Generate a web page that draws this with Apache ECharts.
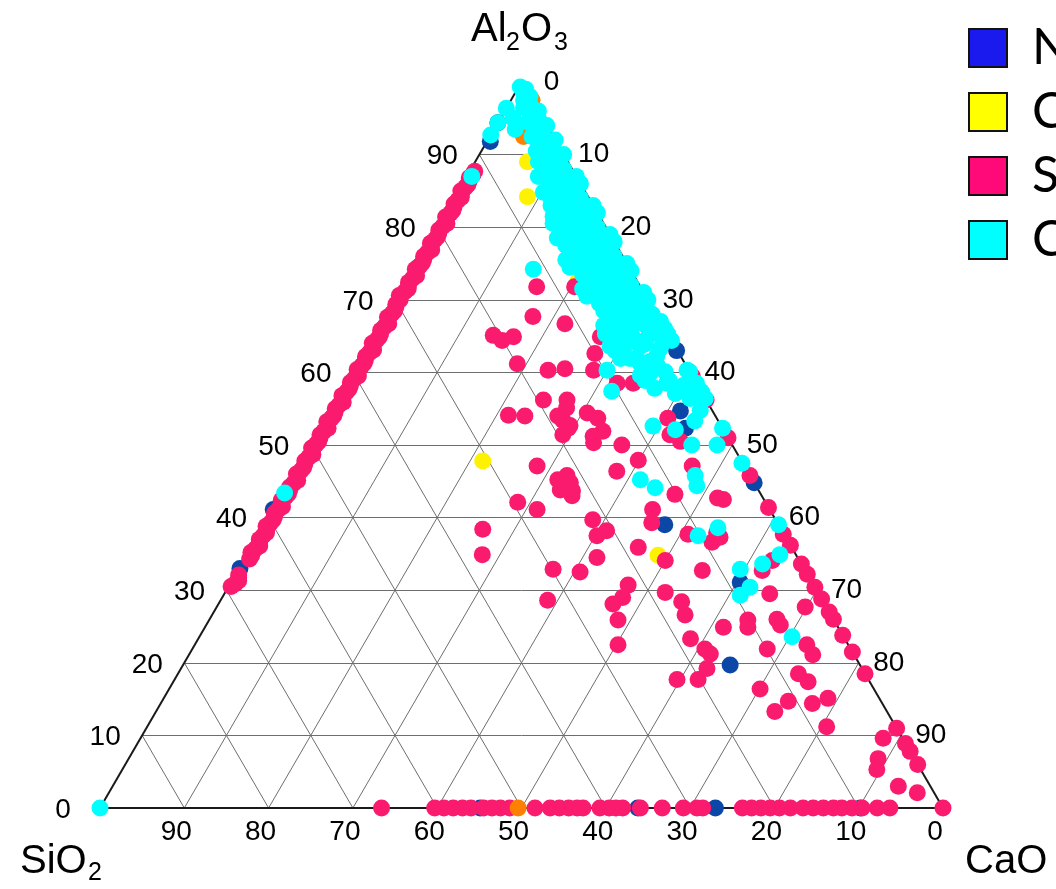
<!DOCTYPE html>
<html>
<head>
<meta charset="utf-8">
<script src="https://cdn.jsdelivr.net/npm/echarts@6/dist/echarts.min.js"></script>
<style>
html, body { margin: 0; padding: 0; background: #fff; }
#chart { width: 1056px; height: 889px; }
</style>
</head>
<body>
<div id="chart"></div>
<script>
// 三元图 SiO2 - Al2O3 - CaO, 每个点 [SiO2, Al2O3, CaO] (wt%)
var ticks = [0, 10, 20, 30, 40, 50, 60, 70, 80, 90];
var gridSteps = [10, 20, 30, 40, 50, 60, 70, 80, 90];
var legendNames = ['Natural', 'Commercial', 'Synthetic', 'Cement'];

var blueData = [
    [5.6, 94.4, 0], [7.8, 91.8, 0.4], [25, 74.5, 0.5], [58.9, 41.1, 0], [66.9, 33, 0.1],
    [0.1, 63, 36.9], [3.8, 54.7, 41.5], [4.4, 52.3, 43.3], [0, 44.8, 55.2], [13.5, 39.0, 47.5],
    [8.5, 31.1, 60.4], [15.4, 19.7, 64.9], [54.9, 0, 45.1], [36.2, 0, 63.8], [27, 0, 73], [9.8, 0, 90.2]
];

var yellowData = [
    [4.8, 89, 6.2], [4.2, 86.8, 9.0], [7.2, 84.2, 8.6], [7.0, 72.6, 20.4], [30.7, 47.8, 21.5], [16.4, 34.8, 48.8]
];

var orangeData = [
    [0, 97.5, 2.5], [3.5, 92.5, 4.0], [50.4, 0, 49.6]
];

// SiO2-Al2O3 边
var pinkLeft = [
    [69.2, 30.5, 0.3], [67.9, 31.3, 0.8], [67.5, 32.1, 0.4], [65.1, 34.3, 0.6], [64.5, 35.2, 0.3],
    [63.0, 36.1, 0.9], [62.6, 37.0, 0.4], [61.3, 37.9, 0.8], [60.9, 38.8, 0.3], [59.6, 39.7, 0.7],
    [59.0, 40.6, 0.4], [57.6, 41.5, 0.9], [57.3, 42.4, 0.3], [56.0, 43.3, 0.7], [55.4, 44.2, 0.4],
    [54.0, 45.1, 0.9], [53.7, 46.0, 0.3], [52.4, 46.9, 0.7], [51.8, 47.8, 0.4], [50.4, 48.7, 0.9],
    [50.1, 49.6, 0.3], [48.8, 50.5, 0.7], [48.2, 51.4, 0.4], [46.8, 52.3, 0.9], [46.5, 53.2, 0.3],
    [45.2, 54.1, 0.7], [44.6, 55.0, 0.4], [43.2, 55.9, 0.9], [42.9, 56.8, 0.3], [41.6, 57.7, 0.7],
    [41.0, 58.6, 0.4], [39.6, 59.5, 0.9], [39.3, 60.4, 0.3], [38.0, 61.3, 0.7], [37.4, 62.2, 0.4],
    [36.0, 63.1, 0.9], [35.7, 64.0, 0.3], [34.4, 64.9, 0.7], [33.8, 65.8, 0.4], [32.4, 66.7, 0.9],
    [32.1, 67.6, 0.3], [30.8, 68.5, 0.7], [30.2, 69.4, 0.4], [29.2, 70.6, 0.2], [27.7, 71.5, 0.8],
    [27.2, 72.4, 0.4], [25.8, 73.3, 0.9], [25.5, 74.2, 0.3], [24.2, 75.1, 0.7], [23.6, 76.0, 0.4],
    [22.2, 76.9, 0.9], [21.9, 77.8, 0.3], [20.6, 78.7, 0.7], [20.0, 79.6, 0.4], [18.6, 80.5, 0.9],
    [18.3, 81.4, 0.3], [17.0, 82.3, 0.7], [16.4, 83.2, 0.4], [15.1, 84.1, 0.8], [14.7, 85.0, 0.3],
    [13.4, 85.9, 0.7], [12.8, 86.8, 0.4], [11.7, 87.7, 0.6],
    [68.5, 30.9, 0.6], [67.7, 31.7, 0.6], [64.6, 34.8, 0.6], [63.7, 35.7, 0.6], [62.8, 36.6, 0.6],
    [61.9, 37.5, 0.6], [61.0, 38.4, 0.6], [60.1, 39.3, 0.6], [59.2, 40.2, 0.6], [58.3, 41.1, 0.6],
    [57.4, 42.0, 0.6], [56.5, 42.9, 0.6], [55.6, 43.8, 0.6], [54.7, 44.7, 0.6], [53.8, 45.6, 0.6],
    [52.9, 46.5, 0.6], [52.0, 47.4, 0.6], [51.1, 48.3, 0.6], [50.2, 49.2, 0.6], [49.3, 50.1, 0.6],
    [48.4, 51.0, 0.6], [47.5, 51.9, 0.6], [46.6, 52.8, 0.6], [45.7, 53.7, 0.6], [44.8, 54.6, 0.6],
    [43.9, 55.5, 0.6], [43.0, 56.4, 0.6], [42.1, 57.3, 0.6], [41.2, 58.2, 0.6], [40.3, 59.1, 0.6],
    [39.4, 60.0, 0.6], [38.5, 60.9, 0.6], [37.6, 61.8, 0.6], [36.7, 62.7, 0.6], [35.8, 63.6, 0.6],
    [34.9, 64.5, 0.6], [34.0, 65.4, 0.6], [33.1, 66.3, 0.6], [32.2, 67.2, 0.6], [31.3, 68.1, 0.6],
    [30.4, 69.0, 0.6], [29.4, 70.0, 0.6], [28.3, 71.1, 0.6], [27.4, 72.0, 0.6], [26.5, 72.9, 0.6],
    [25.6, 73.8, 0.6], [24.7, 74.7, 0.6], [23.8, 75.6, 0.6], [22.9, 76.5, 0.6], [22.0, 77.4, 0.6],
    [21.1, 78.3, 0.6], [20.2, 79.2, 0.6], [19.3, 80.1, 0.6], [18.4, 81.0, 0.6], [17.5, 81.9, 0.6],
    [16.6, 82.8, 0.6], [15.7, 83.7, 0.6], [14.8, 84.6, 0.6], [13.9, 85.5, 0.6], [13.0, 86.4, 0.6],
    [12.1, 87.3, 0.6]
];

// SiO2-CaO 边
var pinkBottom = [
    [66.6, 0, 33.4], [60.3, 0, 39.7], [59.2, 0, 40.8], [58.1, 0, 41.9], [57.0, 0, 43.0], [56.0, 0, 44.0],
    [54.5, 0, 45.5], [53.5, 0, 46.5], [52.5, 0, 47.5], [51.4, 0, 48.6], [48.4, 0, 51.6], [46.6, 0, 53.4],
    [45.5, 0, 54.5], [44.4, 0, 55.6], [43.4, 0, 56.6], [42.7, 0, 57.3], [40.7, 0, 59.3], [39.6, 0, 60.4],
    [38.8, 0, 61.2], [38.0, 0, 62.0], [35.9, 0, 64.1], [33.3, 0, 66.7], [30.8, 0, 69.2], [29.2, 0, 70.8],
    [28.5, 0, 71.5], [23.8, 0, 76.2], [22.7, 0, 77.3], [21.6, 0, 78.4], [20.5, 0, 79.5], [19.4, 0, 80.6],
    [18.1, 0, 81.9], [16.6, 0, 83.4], [15.4, 0, 84.6], [14.2, 0, 85.8], [13.0, 0, 87.0], [12.0, 0, 88.0],
    [10.8, 0, 89.2], [9.6, 0, 90.4], [7.8, 0, 92.2], [6.3, 0, 93.7], [0, 0, 100]
];

// 内部 + Al2O3-CaO 边
var pinkInner = [
    [14.8, 67.7, 17.5], [11.5, 66.7, 21.8], [8.2, 64.9, 26.9], [10.0, 62.6, 27.4], [14.6, 60.5, 24.9],
    [11.3, 60.3, 28.4], [9.4, 58.5, 32.1], [7.5, 58.5, 34.0], [0, 59.5, 40.5], [0, 56.2, 43.8],
    [5.8, 53.7, 40.5], [6.7, 51.4, 41.9], [5.9, 50.5, 43.6], [0, 51.0, 49.0], [0, 45.8, 54.2],
    [0, 41.4, 58.6], [6.2, 47.1, 46.7], [10.2, 43.2, 46.6], [12.2, 47.9, 39.9], [15.5, 46.4, 38.1],
    [13.1, 50.0, 36.9], [5.4, 42.7, 51.9], [4.8, 42.5, 52.7], [16.5, 56.2, 27.3], [18.4, 53.4, 28.2],
    [17.9, 52.7, 29.4], [15.0, 54.4, 30.6], [14.1, 53.7, 32.2], [14.4, 51.9, 33.7], [15.9, 51.2, 32.9],
    [16.3, 50.3, 33.4], [21.8, 44.8, 33.4], [21.7, 45.8, 32.5], [22.1, 43.7, 34.2], [23.5, 43.8, 32.7],
    [20.8, 65.1, 14.1], [20.1, 64.4, 15.5], [18.5, 64.9, 16.6], [19.9, 61.2, 18.9], [16.7, 60.3, 23.0],
    [19.3, 56.2, 24.5], [24.5, 54.1, 21.4], [22.6, 54.0, 23.4], [18.7, 54.0, 27.3], [17.1, 55.1, 27.8],
    [18.3, 52.3, 29.4], [19.4, 51.4, 29.2], [24.6, 47.1, 28.3], [23.1, 45.2, 31.7], [22.5, 43.0, 34.5],
    [29.4, 42.1, 28.5], [27.6, 41.1, 31.3], [35.4, 38.4, 26.2], [37.2, 34.9, 27.9], [29.8, 32.9, 37.3],
    [32.6, 28.6, 38.8], [12.3, 71.8, 15.9], [7.8, 71.8, 20.4], [21.7, 39.7, 38.6], [20.8, 38.2, 41.0],
    [22.3, 37.5, 40.2], [18.2, 35.9, 45.9], [15.9, 34.1, 50.0], [23.8, 34.5, 41.7], [26.8, 32.5, 40.7],
    [22.0, 30.7, 47.3], [23.5, 29.0, 47.5], [25.1, 28.1, 46.8], [25.6, 25.9, 48.5], [27.3, 22.5, 50.2],
    [18.1, 29.7, 52.2], [16.8, 28.4, 54.8], [17.3, 26.6, 56.1], [18.3, 23.3, 58.4], [17.3, 21.9, 60.8],
    [17.0, 21.2, 61.8], [13.6, 24.9, 61.5], [22.7, 17.7, 59.6], [20.2, 17.7, 62.1], [18.4, 19.2, 62.4],
    [14.9, 39.3, 45.8], [13.9, 41.1, 45.0], [11.4, 37.7, 50.9], [7.9, 37.9, 54.2], [9.1, 36.6, 54.3],
    [7.8, 37.3, 54.9], [12.2, 32.7, 55.1], [10.2, 25.9, 63.9], [10.7, 24.9, 64.4], [5.8, 29.5, 64.7],
    [6.7, 25.2, 68.1], [6.7, 26.0, 67.3], [2.5, 27.7, 69.8], [9.9, 21.9, 68.2], [4.9, 22.5, 72.6],
    [4.9, 21.1, 74.0], [13.5, 16.4, 70.1], [7.9, 18.5, 73.6], [7.3, 17.4, 75.3], [11.0, 14.7, 74.3],
    [13.3, 13.3, 73.4], [8.3, 14.4, 77.3], [6.1, 15.1, 78.8], [8.2, 11.2, 80.6], [3.2, 34.1, 62.7],
    [5.1, 32.7, 62.2], [0.1, 37.7, 62.2], [0, 36.2, 63.8], [0, 33.6, 66.4], [0, 32.2, 67.8],
    [0, 30.4, 69.6], [0, 28.8, 71.2], [0, 27.0, 73.0], [0, 26.0, 74.0], [0, 23.8, 76.2],
    [0, 21.5, 78.5], [0, 18.5, 81.5], [0, 11.0, 89.0], [0, 8.9, 91.1], [0, 7.8, 92.2],
    [0, 6.0, 94.0], [2.3, 9.6, 88.1], [4.3, 6.8, 88.9], [5.2, 5.3, 89.5], [3.8, 3.0, 93.2],
    [2.0, 2.1, 95.9]
];

var cyanBand = [
    [0.5, 99.3, 0.2], [0, 99, 1], [0.5, 98.5, 1], [0, 98, 2], [1, 97.5, 1.5], [0.5, 97, 2.5], [1.5, 96.5, 2],
    [3.6, 96.4, 0], [5.6, 94.4, 0], [7.3, 92.7, 0], [3.5, 95, 1.5], [4, 93.5, 2.5],
    [0, 96, 4], [1, 95.5, 3.5], [0.5, 95, 4.5], [2, 94.5, 3.5], [0, 94, 6], [1.5, 93.5, 5], [1, 93, 6],
    [2.5, 92.5, 5], [0, 92, 8], [2, 91.5, 6.5], [1, 91, 8], [3, 90.5, 6.5], [0, 90, 10], [2, 89.5, 8.5],
    [3.5, 89, 7.5], [1, 88, 11], [3, 87.5, 9.5], [4.5, 87, 8.5], [0, 86, 14], [2, 85.5, 12.5], [4, 85, 11],
    [1, 84, 15], [3, 83.5, 13.5], [5, 83, 12], [0, 82, 18], [2, 81.5, 16.5], [4, 81, 15], [6, 80.5, 13.5],
    [1, 80, 19], [3, 79.5, 17.5], [5, 79, 16], [6.5, 78.5, 15], [0, 78, 22], [2, 77.5, 20.5], [4, 77, 19],
    [6, 76.5, 17.5], [1, 76, 23], [3, 75.5, 21.5], [5, 75, 20], [7, 74.5, 18.5], [0, 74, 26], [2, 73.5, 24.5],
    [4, 73, 23], [6, 72.5, 21.5], [1, 72, 27], [3, 71.5, 25.5], [5, 71, 24], [7, 70.5, 22.5], [0, 70, 30],
    [2, 69.5, 28.5], [4, 69, 27], [6, 68.5, 25.5], [0.5, 68, 31.5], [2.5, 67.5, 30], [4.5, 67, 28.5],
    [7, 66.5, 26.5], [0, 66, 34], [2, 65.5, 32.5], [4.5, 65, 30.5], [7, 64.5, 28.5],
    [1.5, 92, 6.5], [0.5, 91.5, 8], [2.5, 91, 6.5], [1.5, 90.5, 8], [1, 89, 10], [2.5, 88.5, 9],
    [0, 87, 13], [2, 86.5, 11.5], [3.5, 86, 10.5], [1, 85, 14], [3, 84.5, 12.5], [4.5, 84, 11.5],
    [0, 83, 17], [2, 82.5, 15.5], [4, 82, 14], [5.5, 81.5, 13], [1, 81, 18], [3, 80.5, 16.5], [5, 80, 15],
    [0, 79, 21], [2, 78.5, 19.5], [4, 78, 18], [6, 77.5, 16.5], [1, 77, 22], [3, 76.5, 20.5], [5, 76, 19],
    [7, 75.5, 17.5], [0, 75, 25], [2, 74.5, 23.5], [4, 74, 22], [6, 73.5, 20.5], [1, 73, 26], [3, 72.5, 24.5],
    [5, 72, 23], [7, 71.5, 21.5], [0, 71, 29], [2, 70.5, 27.5], [4, 70, 26], [6, 69.5, 24.5], [1, 69, 30],
    [3, 68.5, 28.5], [5, 68, 27], [0, 67, 33], [2, 66.5, 31.5], [4, 66, 30], [6, 65.5, 28.5], [1, 65, 34],
    [3, 64.5, 32.5], [5.5, 64, 30.5]
];

var cyanOther = [
    [2.1, 67.7, 30.2], [4.6, 66.7, 28.7], [2.0, 65.6, 32.4], [0, 65.3, 34.7], [0, 64.4, 35.6],
    [7.7, 63.6, 28.7], [6.5, 63.0, 30.5], [4.1, 63.6, 32.3], [2.8, 62.3, 34.9], [5.3, 61.2, 33.5],
    [4.8, 59.9, 35.3], [9.7, 60.3, 30.0], [3.5, 58.5, 38.0], [1.3, 58.2, 40.5], [0.2, 60.3, 39.5],
    [3.2, 58.9, 37.9], [0, 57.4, 42.6], [10.6, 57.4, 32.0], [5.9, 58.9, 35.2], [0, 57.1, 42.9],
    [5.4, 68.1, 26.5], [4.7, 66.0, 29.3], [7.4, 63.0, 29.6], [6.2, 61.9, 31.9], [5.2, 61.5, 33.3],
    [3.4, 61.0, 35.6], [3.0, 58.9, 38.1], [1.7, 58.2, 40.1], [0, 60.1, 39.9], [0.3, 64.9, 34.8],
    [7.4, 65.3, 27.3], [5.5, 66.7, 27.8], [4.4, 65.0, 30.6], [3.4, 63.9, 32.7], [1.9, 63.3, 34.8],
    [7.3, 61.9, 30.8], [4.0, 61.5, 34.5], [2.9, 60.1, 37.0], [6.1, 59.6, 34.3], [5.3, 57.8, 36.9],
    [3.2, 57.1, 39.7], [1.8, 56.4, 41.8], [0, 56.4, 43.6], [0, 58.5, 41.5],
    [5.7, 52.1, 42.2], [4.8, 50.0, 45.2], [1.4, 54.8, 43.8], [2.8, 53.3, 43.9], [8.1, 52.6, 39.3],
    [1.8, 50.0, 48.2], [0, 52.3, 47.7], [0.1, 47.5, 52.4], [6.5, 45.8, 47.7], [7.0, 44.4, 48.6],
    [12.1, 44.1, 43.8], [13.3, 45.2, 41.5], [0, 39.0, 61.0], [1.9, 34.9, 63.2], [4.6, 33.6, 61.8],
    [7.6, 32.9, 59.5], [7.7, 30.4, 61.9], [9.4, 29.3, 61.3], [6.1, 23.6, 70.3], [10.3, 37.5, 52.2],
    [7.4, 38.6, 54.0], [56.4, 43.4, 0.2], [12.4, 87.0, 0.6], [100, 0, 0],
    [5.0, 84.8, 10.2], [11.5, 74.2, 14.3], [6.5, 71.1, 22.4]
];

// 组成 -> 直角坐标 (x: 0..100, y = Al2O3)
function toXY(p) {
    var sum = p[0] + p[1] + p[2];
    var al = p[1] / sum * 100;
    var ca = p[2] / sum * 100;
    return [ca + al / 2, al];
}

function seg(a, b) {
    return { coords: [toXY(a), toXY(b)] };
}

var gridLines = [];
gridSteps.forEach(function (v) {
    gridLines.push(seg([100 - v, v, 0], [0, v, 100 - v]));  // Al2O3 = v
    gridLines.push(seg([100 - v, 0, v], [0, 100 - v, v]));  // CaO = v
    gridLines.push(seg([v, 0, 100 - v], [v, 100 - v, 0]));  // SiO2 = v
});

var edgeLines = [
    seg([100, 0, 0], [0, 0, 100]),
    seg([0, 0, 100], [0, 100, 0]),
    seg([0, 100, 0], [100, 0, 0])
];

var leftLabels = ticks.map(function (v) { return toXY([100 - v, v, 0]).concat([v]); });
var rightLabels = ticks.map(function (v) { return toXY([0, 100 - v, v]).concat([v]); });
var bottomLabels = ticks.map(function (v) { return toXY([v, 0, 100 - v]).concat([v]); });

var FONT = "'Liberation Sans', Arial, sans-serif";

function labelSeries(data, offset) {
    return {
        type: 'scatter',
        data: data,
        symbolSize: 1,
        silent: true,
        itemStyle: { color: 'rgba(0,0,0,0)' },
        label: {
            show: true,
            position: 'inside',
            offset: offset,
            formatter: function (p) { return p.value[2]; },
            fontFamily: FONT,
            fontSize: 28,
            color: '#000',
            opacity: 1,
            textBorderWidth: 0
        },
        z: 5
    };
}

function pointSeries(name, data, color, z) {
    return {
        name: name,
        type: 'scatter',
        data: data.map(toXY),
        symbolSize: 17,
        itemStyle: { color: color, opacity: 1 },
        z: z
    };
}

var chart = echarts.init(document.getElementById('chart'));

var option = {
    animation: false,
    grid: { left: 100, top: 82, width: 843, height: 726 },
    xAxis: { type: 'value', min: 0, max: 100, show: false },
    yAxis: { type: 'value', min: 0, max: 100, show: false },
    legend: {
        orient: 'vertical',
        left: 968,
        top: 23,
        padding: 0,
        icon: 'rect',
        itemWidth: 38,
        itemHeight: 38,
        itemGap: 14,
        itemStyle: { borderColor: '#111', borderWidth: 2 },
        textStyle: { fontSize: 50, fontFamily: 'Lato, sans-serif', color: '#000', padding: [0, 0, 0, 20] },
        data: [
            { name: legendNames[0], itemStyle: { color: '#1a1aee' } },
            { name: legendNames[1], itemStyle: { color: '#ffff00' } },
            { name: legendNames[2], itemStyle: { color: '#ff0a78' } },
            { name: legendNames[3], itemStyle: { color: '#00ffff' } }
        ]
    },
    graphic: [
        { type: 'text', left: 471, top: 10, style: { text: 'Al', font: '40px ' + FONT, fill: '#000' } },
        { type: 'text', left: 506, top: 31, style: { text: '2', font: '25px ' + FONT, fill: '#000' } },
        { type: 'text', left: 521, top: 10, style: { text: 'O', font: '40px ' + FONT, fill: '#000' } },
        { type: 'text', left: 554, top: 31, style: { text: '3', font: '25px ' + FONT, fill: '#000' } },
        { type: 'text', left: 20, top: 842, style: { text: 'SiO', font: '40px ' + FONT, fill: '#000' } },
        { type: 'text', left: 88, top: 861, style: { text: '2', font: '25px ' + FONT, fill: '#000' } },
        { type: 'text', left: 965, top: 842, style: { text: 'CaO', font: '40px ' + FONT, fill: '#000' } }
    ],
    series: [
        {
            type: 'lines',
            coordinateSystem: 'cartesian2d',
            silent: true,
            data: gridLines,
            lineStyle: { color: '#6e6e6e', width: 1, opacity: 1 },
            z: 1
        },
        {
            type: 'lines',
            coordinateSystem: 'cartesian2d',
            silent: true,
            data: edgeLines,
            lineStyle: { color: '#1a1a1a', width: 2, opacity: 1 },
            z: 2
        },
        labelSeries(leftLabels, [-37, 2]),
        labelSeries(rightLabels, [30, 0]),
        labelSeries(bottomLabels, [-8, 24]),
        pointSeries(legendNames[1], yellowData, '#fff200', 10),
        pointSeries(legendNames[0], blueData, '#0a47a6', 11),
        pointSeries(legendNames[2], pinkLeft.concat(pinkBottom, pinkInner), '#fa1b6f', 12),
        pointSeries('Other', orangeData, '#ff8000', 13),
        pointSeries(legendNames[3], cyanBand.concat(cyanOther), '#00ffff', 14)
    ]
};

chart.setOption(option);
</script>
</body>
</html>
